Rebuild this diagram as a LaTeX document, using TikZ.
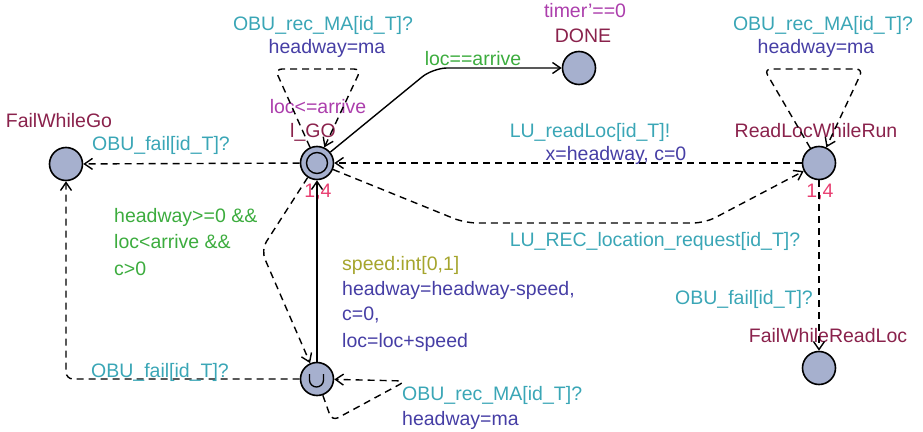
\documentclass[tikz,border=0pt]{standalone}
\usepackage{fontspec}
\setmainfont{Liberation Sans}
\usetikzlibrary{arrows.meta}

\definecolor{locfill}{RGB}{166,176,206}
\definecolor{chancol}{RGB}{58,166,182}
\definecolor{updcol}{RGB}{70,62,165}
\definecolor{guardcol}{RGB}{60,172,62}
\definecolor{invcol}{RGB}{172,62,172}
\definecolor{namecol}{RGB}{138,34,76}
\definecolor{ratecol}{RGB}{232,62,112}
\definecolor{selcol}{RGB}{165,165,45}

\begin{document}
\begin{tikzpicture}[x=1pt,y=-1pt,
  loc/.style={circle,draw=black,line width=1.6pt,fill=locfill,minimum size=33pt,inner sep=0pt},
  edge/.style={line width=1.4pt,-{Straight Barb[length=8pt,width=11pt]},rounded corners=7pt},
  dashedge/.style={edge,dash pattern=on 7pt off 5pt},
  lbl/.style={inner sep=0pt,font=\fontsize{19.5}{23}\selectfont,anchor=base},
  lblw/.style={lbl,anchor=base west},
  lble/.style={lbl,anchor=base east},
  chan/.style={text=chancol},
  upd/.style={text=updcol},
  guard/.style={text=guardcol},
  inv/.style={text=invcol},
  lname/.style={text=namecol},
  rate/.style={text=ratecol},
  sel/.style={text=selcol}]

\useasboundingbox (0,0) rectangle (923,431);

% locations
\node[loc] (lgo)  at (317,163) {};
\node[circle,draw=black,line width=1.4pt,minimum size=21pt,inner sep=0pt] (lgoinner) at (lgo) {};
\node[loc] (fwg)  at (66,164) {};
\node[loc] (done) at (579,68) {};
\node[loc] (rlwr) at (819,163) {};
\node[loc] (fwrl) at (819,368) {};
\node[loc] (u)    at (317,379) {};
% urgent mark
\draw[line width=1.3pt] (309.5,374) -- (309.5,380) arc[start angle=180,end angle=0,radius=7] -- (323.5,374);

% location names, invariants and rates
\node[lbl,lname] (nlgo) at (313,137) {l\_GO};
\node[lbl,inv]   (ilgo) at (318,113) {loc<=arrive};
\node[lbl,rate]  (rlgo) at (318,197) {1,4};
\node[lbl,lname] (nfwg) at (59,127) {FailWhileGo};
\node[lbl,lname] (ndone) at (583,42) {DONE};
\node[lbl,inv]   (idone) at (585,17) {timer'==0};
\node[lbl,lname] (nrlwr) at (816,137) {ReadLocWhileRun};
\node[lbl,rate]  (rrlwr) at (820,197) {1,4};
\node[lbl,lname] (nfwrl) at (828,342) {FailWhileReadLoc};

% waypoints
\coordinate (kdone) at (433,68);
\coordinate (la) at (275,69);
\coordinate (lb) at (361,69);
\coordinate (ra) at (764,69);
\coordinate (rb) at (863,69);
\coordinate (ca) at (465,223);
\coordinate (cb) at (705,223);
\coordinate (ga) at (261,250);
\coordinate (fa) at (66,379);
\coordinate (ua) at (332,421);
\coordinate (ub) at (406,381);

% edges
\draw[edge,rounded corners=14pt] (lgo) -- (kdone) -- (done);
\draw[dashedge] (lgo) -- (fwg);
\draw[dashedge] (rlwr) -- (lgo);
\draw[dashedge] (lgo) -- (la) -- (lb) -- (lgo);
\draw[dashedge] (rlwr) -- (ra) -- (rb) -- (rlwr);
\draw[dashedge,rounded corners=12pt] (lgo) -- (ca) -- (cb) -- (rlwr);
\draw[dashedge] (rlwr) -- (fwrl);
\draw[dashedge,rounded corners=10pt] (lgo) -- (ga) -- (u);
\draw[edge] (u) -- (lgo);
\draw[dashedge] (u) -- (fa) -- (fwg);
\draw[dashedge] (u) -- (ua) -- (ub) -- (u);

% edge labels
\node[lbl,chan] (e1s) at (323,30) {OBU\_rec\_MA[id\_T]?};
\node[lbl,upd]  (e1u) at (327,53) {headway=ma};
\node[lbl,guard] (e2g) at (473,65) {loc==arrive};
\node[lbl,chan] (e3s) at (161,150) {OBU\_fail[id\_T]?};
\node[lbl,chan] (e4s) at (590,137) {LU\_readLoc[id\_T]!};
\node[lbl,upd]  (e4u) at (616,160) {x=headway, c=0};
\node[lbl,chan] (e5s) at (823,30) {OBU\_rec\_MA[id\_T]?};
\node[lbl,upd]  (e5u) at (816,53) {headway=ma};
\node[lbl,chan] (e6s) at (655,246) {LU\_REC\_location\_request[id\_T]?};
\node[lble,chan] (e7s) at (813,304) {OBU\_fail[id\_T]?};
\node[lblw,guard] (e8a) at (114,222) {headway>=0 \&\&};
\node[lblw,guard] (e8b) at (114,248) {loc<arrive \&\&};
\node[lblw,guard] (e8c) at (114,275) {c>0};
\node[lblw,sel] (e9s) at (342,270) {speed:int[0,1]};
\node[lblw,upd] (e9a) at (342,295) {headway=headway-speed,};
\node[lblw,upd] (e9b) at (342,320) {c=0,};
\node[lblw,upd] (e9c) at (342,347) {loc=loc+speed};
\node[lbl,chan] (e10s) at (160,377) {OBU\_fail[id\_T]?};
\node[lblw,chan] (e11s) at (402,400) {OBU\_rec\_MA[id\_T]?};
\node[lblw,upd] (e11u) at (402,425) {headway=ma};
\end{tikzpicture}
\end{document}
